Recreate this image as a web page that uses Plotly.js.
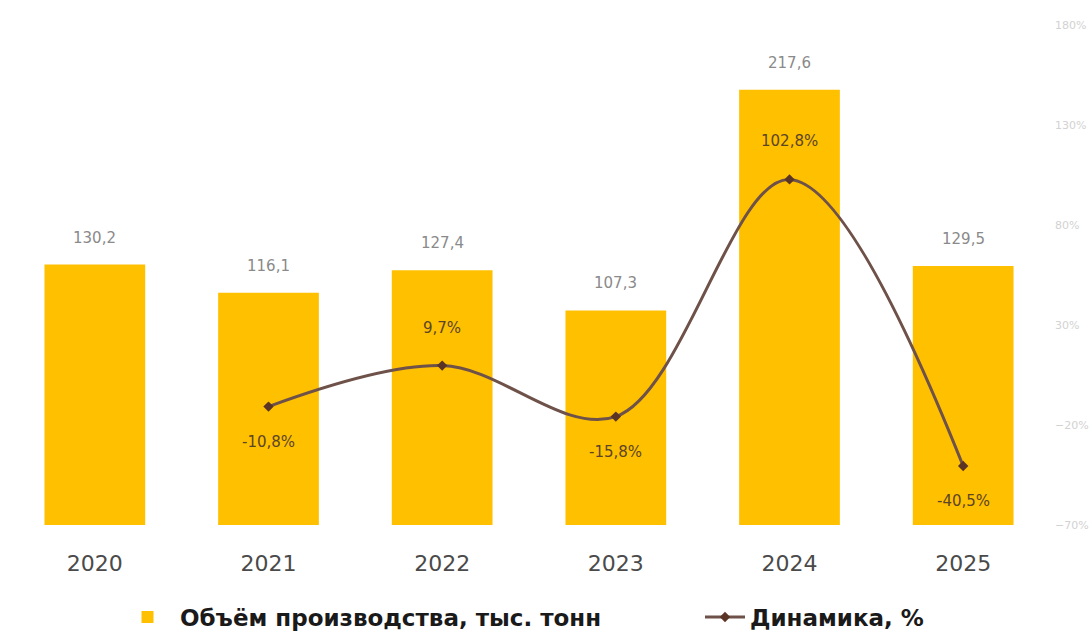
<!DOCTYPE html>
<html>
<head>
<meta charset="utf-8">
<script src="https://cdn.plot.ly/plotly-3.0.1.min.js"></script>
<style>html,body{margin:0;padding:0;background:#fff;}#chart{width:1092px;height:637px;}</style>
</head>
<body>
<div id="chart"></div>
<script>
// Data (read/estimated from the reference picture)
const years = ["2020", "2021", "2022", "2023", "2024", "2025"];
const volume = [130.2, 116.1, 127.4, 107.3, 217.6, 129.5];          // Объём производства, тыс. тонн
const dynamics = [null, -10.8, 9.7, -15.8, 102.8, -40.5];           // Динамика, %
const dynLabelSide = [null, "below", "above", "below", "above", "below"];

const barName = "Объём производства, тыс. тонн";
const lineName = "Динамика, %";

function fmt(v) { return v.toFixed(1).replace(".", ","); }

const barTrace = {
  type: "bar",
  name: barName,
  x: years,
  y: volume,
  marker: { color: "#FFC000" },
  yaxis: "y",
  legend: "legend",
  hoverinfo: "skip"
};

const lineTrace = {
  type: "scatter",
  mode: "lines+markers",
  name: lineName,
  x: years,
  y: dynamics,
  yaxis: "y2",
  legend: "legend2",
  connectgaps: false,
  line: { color: "#6e5148", width: 3, shape: "spline", smoothing: 1 },
  marker: { symbol: "diamond", size: 8, color: "#5a3526" },
  hoverinfo: "skip"
};

const annotations = [];
years.forEach((yr, i) => {
  annotations.push({
    x: i, y: volume[i], xref: "x", yref: "y",
    text: fmt(volume[i]), showarrow: false, yshift: 27,
    font: { family: "DejaVu Sans", size: 15, color: "#8a8a8a" }
  });
  if (dynamics[i] !== null) {
    annotations.push({
      x: i, y: dynamics[i], xref: "x", yref: "y2",
      text: fmt(dynamics[i]) + "%", showarrow: false,
      yshift: dynLabelSide[i] === "above" ? 38 : -35,
      font: { family: "DejaVu Sans", size: 15, color: "#5b4526" }
    });
  }
});

const legendFont = { family: "DejaVu Sans", size: 23, color: "#1a1a1a", weight: "bold" };

const layout = {
  width: 1092,
  height: 637,
  margin: { l: 8, r: 42, t: 25, b: 112 },
  paper_bgcolor: "#ffffff",
  plot_bgcolor: "#ffffff",
  bargap: 0.42,
  showlegend: true,
  legend: {
    orientation: "h",
    xref: "container", yref: "container",
    x: 115 / 1092, xanchor: "left",
    y: 20 / 637, yanchor: "middle",
    font: legendFont,
    itemwidth: 55
  },
  legend2: {
    orientation: "h",
    xref: "container", yref: "container",
    x: 700 / 1092, xanchor: "left",
    y: 20 / 637, yanchor: "middle",
    font: legendFont,
    itemwidth: 40
  },
  xaxis: {
    type: "category",
    categoryorder: "array",
    categoryarray: years,
    range: [-0.5, 5.5],
    autorange: false,
    showgrid: false,
    zeroline: false,
    showline: false,
    ticks: "",
    ticklabelstandoff: 23,
    tickfont: { family: "DejaVu Sans", size: 22, color: "#4a4a4a" }
  },
  yaxis: {
    range: [0, 250],
    visible: false,
    showgrid: false,
    zeroline: false
  },
  yaxis2: {
    overlaying: "y",
    side: "right",
    range: [-70, 180],
    tickmode: "linear",
    tick0: -70,
    dtick: 50,
    ticksuffix: "%",
    showgrid: false,
    zeroline: false,
    showline: false,
    ticks: "",
    ticklabelstandoff: 4,
    tickfont: { family: "DejaVu Sans", size: 11, color: "#d2d2d2" }
  },
  annotations: annotations
};

Plotly.newPlot("chart", [barTrace, lineTrace], layout, { displayModeBar: false, staticPlot: true });
</script>
</body>
</html>
